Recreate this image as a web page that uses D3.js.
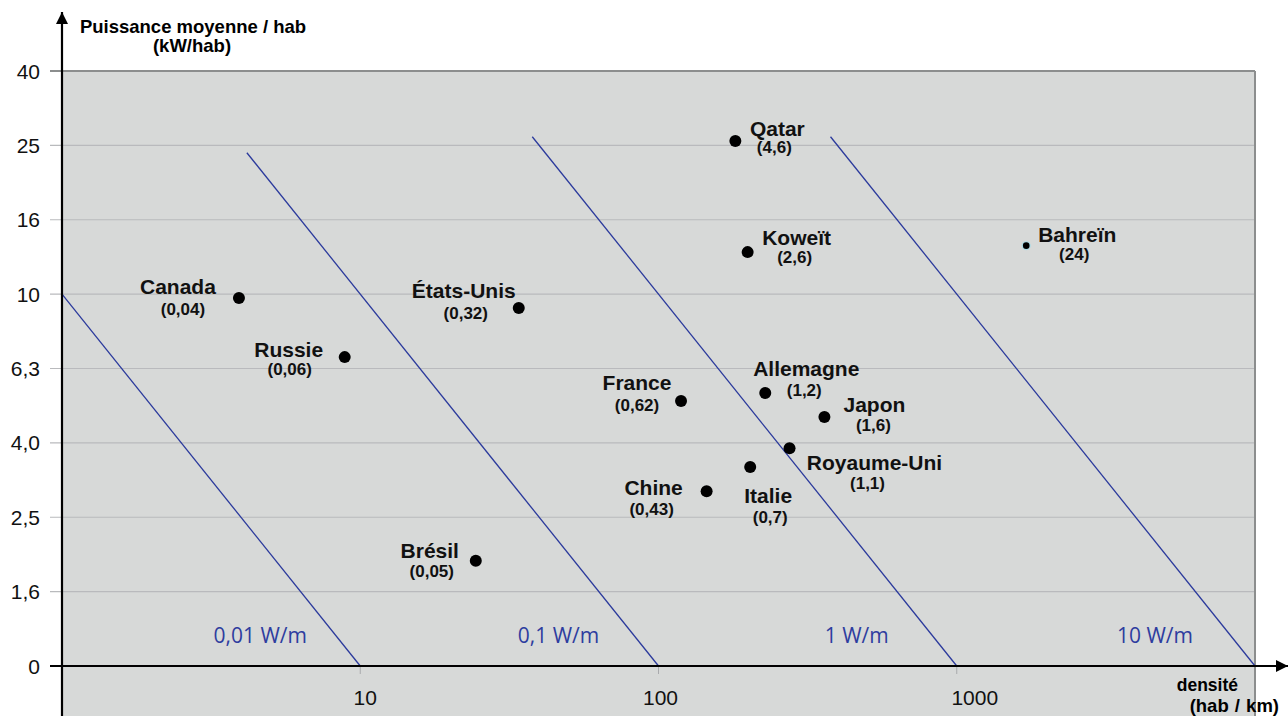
<!DOCTYPE html>
<html><head><meta charset="utf-8">
<script src="https://cdn.jsdelivr.net/npm/d3@7"></script>
<style>body{margin:0;background:#fff}svg{display:block}</style>
</head><body>
<svg id="c" width="1288" height="716"></svg>
<script>
// ---- data ----
const countries = ["Canada","Russie","États-Unis","Brésil","France","Chine","Italie","Allemagne","Japon","Royaume-Uni","Koweït","Qatar","Bahreïn"];
const density   = [3.92, 8.87, 34.0, 24.4, 119, 145, 203, 228, 360, 275, 199, 181, 1710];   // hab/km
const power     = [9.76, 6.77, 9.17, 1.92, 5.16, 2.95, 3.43, 5.42, 4.67, 3.85, 12.97, 25.8, 13.5]; // kW/hab
const wPerM     = ["(0,04)","(0,06)","(0,32)","(0,05)","(0,62)","(0,43)","(0,7)","(1,2)","(1,6)","(1,1)","(2,6)","(4,6)","(24)"];
const yTickVals = [1, 1.585, 2.512, 3.981, 6.31, 10, 15.85, 25.12, 39.81];
const yTickLabels = ["0","1,6","2,5","4,0","6,3","10","16","25","40"];
const xTickVals = [10, 100, 1000];
const xTickLabels = ["10","100","1000"];
const isoValues = [0.01, 0.1, 1, 10];          // W/m
const isoLabels = ["0,01 W/m","0,1 W/m","1 W/m","10 W/m"];
const isoTopP   = [10, 24, 26.5, 26.5];        // kW/hab where each line starts

// label placement (dx,dy of name centre and value centre relative to dot)
const namePos  = [[-61,-12],[-56,-8],[-55,-18],[-46,-10],[-44,-18],[-53,-4],[18,29],[41,-25],[50,-13],[85,14],[49,-15],[42,-13],[51,-11]];
const valuePos = [[-56,11],[-55,12],[-53,5],[-44,10],[-44,4],[-55,18],[20,50],[39,-3],[49,8],[78,35],[47,5],[39,6],[48,8]];
const xTickShift = [5, 2, 18];

const svg = d3.select("#c");
const X0 = 62, X1 = 1255, Y0 = 666, Y1 = 71;
const x = d3.scaleLog().domain([1, 10000]).range([X0, X1]);
const y = d3.scaleLog().domain([1, 39.81]).range([Y0, Y1]);
const sans = "Liberation Sans, Arial, sans-serif";

// plot background
svg.append("rect").attr("x", X0).attr("y", Y1).attr("width", X1 - X0).attr("height", 716 - Y1).attr("fill", "#d7d9d8");

// gridlines + tick marks
const topTick = yTickVals[yTickVals.length - 1];
svg.append("g").selectAll("line").data(yTickVals.slice(1)).join("line")
  .attr("x1", 50).attr("x2", X1).attr("y1", d => y(d)).attr("y2", d => y(d))
  .attr("stroke", d => d === topTick ? "#8c8e8e" : "#b9babd").attr("stroke-width", d => d === topTick ? 2 : 1.2);
// right border
svg.append("line").attr("x1", X1).attr("x2", X1).attr("y1", Y1).attr("y2", 716).attr("stroke", "#8c8e8e").attr("stroke-width", 2);
// x tick marks
svg.append("g").selectAll("line").data(xTickVals).join("line")
  .attr("x1", d => x(d)).attr("x2", d => x(d)).attr("y1", Y0).attr("y2", Y0 + 8)
  .attr("stroke", "#a9aaad").attr("stroke-width", 1);

// y tick labels
svg.append("g").selectAll("text").data(yTickVals).join("text")
  .attr("x", 40).attr("y", d => y(d) + 7.5).attr("text-anchor", "end")
  .attr("font-family", sans).attr("font-size", 21).attr("fill", "#111")
  .text((d, i) => yTickLabels[i]);

// x tick labels
svg.append("g").selectAll("text").data(xTickVals).join("text")
  .attr("x", (d, i) => x(d) + xTickShift[i]).attr("y", 705).attr("text-anchor", "middle")
  .attr("font-family", sans).attr("font-size", 21).attr("fill", "#111")
  .text((d, i) => xTickLabels[i]);

// iso-power-density lines: P(kW/hab) * d(hab/km) = 1000 * W/m
const isoG = svg.append("g");
isoValues.forEach((w, i) => {
  const k = w * 1000;
  const pTop = isoTopP[i];
  isoG.append("line")
    .attr("x1", x(k / pTop)).attr("y1", y(pTop))
    .attr("x2", x(k / 1)).attr("y2", y(1))
    .attr("stroke", "#2b3a9c").attr("stroke-width", 1.3);
  isoG.append("text")
    .attr("x", x(k / 1) - 100).attr("y", y(1) - 23).attr("text-anchor", "middle")
    .attr("font-family", "Open Sans, Noto Sans, sans-serif").attr("font-size", 21).attr("fill", "#2e3d9f")
    .text(isoLabels[i]);
});

// axes
const defs = svg.append("defs");
defs.append("marker").attr("id", "arr").attr("viewBox", "0 0 10 10").attr("refX", 10).attr("refY", 5)
  .attr("markerWidth", 12).attr("markerHeight", 12).attr("markerUnits", "userSpaceOnUse").attr("orient", "auto")
  .append("path").attr("d", "M0,0 L10,5 L0,10 Z").attr("fill", "#000");
svg.append("line").attr("x1", X0).attr("x2", X0).attr("y1", 716).attr("y2", 12)
  .attr("stroke", "#000").attr("stroke-width", 2.2).attr("marker-end", "url(#arr)");
svg.append("line").attr("x1", 50).attr("x2", 1288).attr("y1", Y0).attr("y2", Y0)
  .attr("stroke", "#000").attr("stroke-width", 2.2).attr("marker-end", "url(#arr)");

// axis titles
svg.append("text").attr("x", 193).attr("y", 33).attr("text-anchor", "middle").attr("font-family", sans)
  .attr("font-weight", "bold").attr("font-size", 18.5).text("Puissance moyenne / hab");
svg.append("text").attr("x", 192).attr("y", 52).attr("text-anchor", "middle").attr("font-family", sans)
  .attr("font-weight", "bold").attr("font-size", 18.5).text("(kW/hab)");
svg.append("text").attr("x", 1238).attr("y", 691).attr("text-anchor", "end").attr("font-family", sans)
  .attr("font-weight", "bold").attr("font-size", 17.5).text("densité");
svg.append("text").attr("x", 1279).attr("y", 712).attr("text-anchor", "end").attr("font-family", sans)
  .attr("font-weight", "bold").attr("font-size", 18.5).attr("word-spacing", 1)
  .text("(hab / km)");

// points
const pts = svg.append("g");
countries.forEach((c, i) => {
  const cx = x(density[i]), cy = y(power[i]);
  const small = c === "Bahreïn";
  if (small) pts.append("circle").attr("cx", cx).attr("cy", cy).attr("r", 4.5).attr("fill", "#a9dbe6");
  pts.append("circle").attr("cx", cx).attr("cy", cy).attr("r", small ? 3.3 : 6).attr("fill", "#000");
  pts.append("text").attr("x", cx + namePos[i][0]).attr("y", cy + namePos[i][1] + 7.5)
    .attr("text-anchor", "middle").attr("font-family", sans).attr("font-weight", "bold")
    .attr("font-size", 21).attr("fill", "#111").text(c);
  pts.append("text").attr("x", cx + valuePos[i][0]).attr("y", cy + valuePos[i][1] + 6)
    .attr("text-anchor", "middle").attr("font-family", sans).attr("font-weight", "bold")
    .attr("font-size", 17).attr("fill", "#111").text(wPerM[i]);
});
</script>
</body></html>
